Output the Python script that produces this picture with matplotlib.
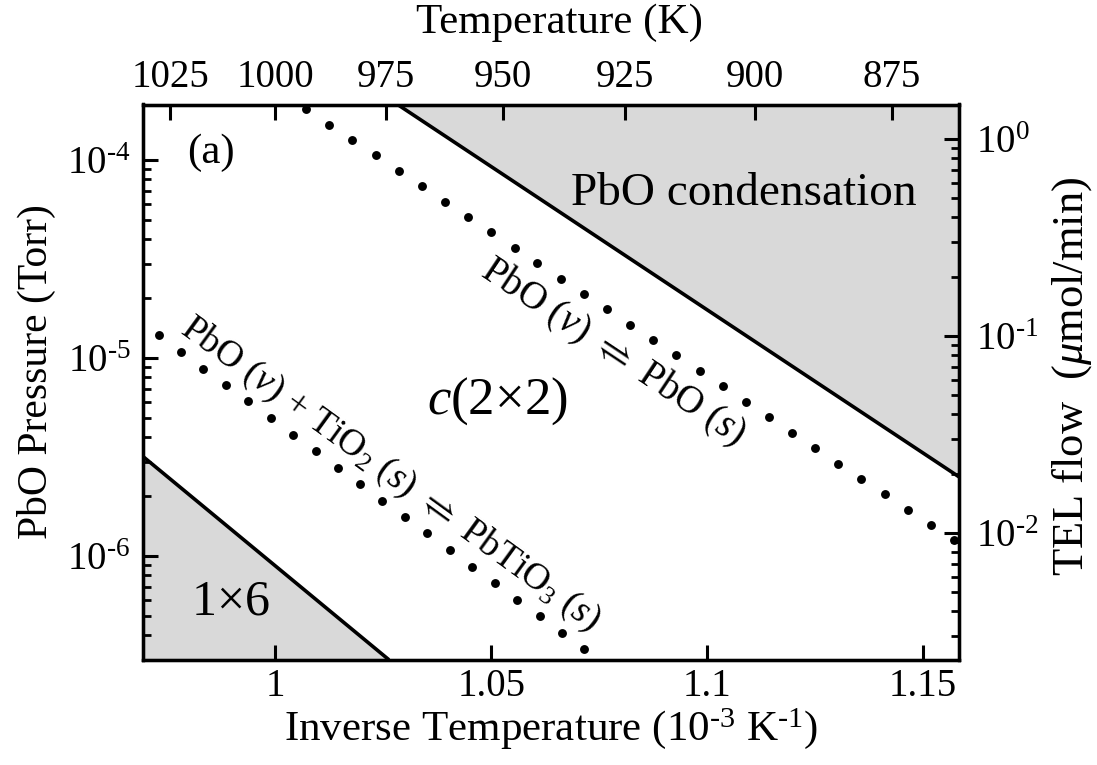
import numpy as np
import matplotlib
matplotlib.use("Agg")
import matplotlib.pyplot as plt
from matplotlib.ticker import LogLocator, NullFormatter, FuncFormatter

plt.rcParams['font.family'] = ['Liberation Serif', 'DejaVu Serif']
plt.rcParams['mathtext.fontset'] = 'custom'
plt.rcParams['mathtext.rm'] = 'Liberation Serif'
plt.rcParams['mathtext.it'] = 'Liberation Serif:italic'
plt.rcParams['mathtext.bf'] = 'Liberation Serif:bold'
plt.rcParams['mathtext.fallback'] = 'stix'

HY = '\u2010'  # short hyphen used as minus in the reference

# ---------------- data ----------------
# PbO condensation boundary (solid line, upper right)
cond_x = [1.0284, 1.1584]
cond_P = [1.90e-4, 2.51e-6]
# 1x6 boundary (solid line, lower left)
r16_x = [0.9693, 1.0263]
r16_P = [3.18e-6, 2.99e-7]
# PbO(v) <-> PbO(s) dotted line
pbo_x = [1.0071, 1.0125, 1.0178, 1.0232, 1.0286, 1.0339, 1.0393, 1.0447, 1.0500,
         1.0554, 1.0607, 1.0661, 1.0715, 1.0768, 1.0822, 1.0875, 1.0929, 1.0983,
         1.1036, 1.1090, 1.1144, 1.1197, 1.1251, 1.1304, 1.1358, 1.1412, 1.1465,
         1.1519, 1.1573]
pbo_P = [1.803e-4, 1.507e-4, 1.259e-4, 1.054e-4, 8.81e-5, 7.36e-5, 6.15e-5, 5.15e-5,
         4.31e-5, 3.60e-5, 3.01e-5, 2.51e-5, 2.10e-5, 1.76e-5, 1.47e-5, 1.23e-5,
         1.03e-5, 8.59e-6, 7.18e-6, 6.00e-6, 5.01e-6, 4.20e-6, 3.51e-6, 2.93e-6,
         2.45e-6, 2.05e-6, 1.71e-6, 1.43e-6, 1.20e-6]
# PbO(v) + TiO2(s) <-> PbTiO3(s) dotted line
pt_x = [0.9729, 0.9781, 0.9833, 0.9885, 0.9937, 0.9989, 1.0041, 1.0093, 1.0144,
        1.0196, 1.0248, 1.0300, 1.0352, 1.0404, 1.0456, 1.0508, 1.0560, 1.0612,
        1.0664, 1.0716]
pt_P = [1.30e-5, 1.07e-5, 8.83e-6, 7.29e-6, 6.03e-6, 4.97e-6, 4.10e-6, 3.38e-6,
        2.79e-6, 2.31e-6, 1.90e-6, 1.57e-6, 1.30e-6, 1.07e-6, 8.83e-7, 7.29e-7,
        6.01e-7, 4.97e-7, 4.09e-7, 3.38e-7]

inv_ticks = [1.0, 1.05, 1.1, 1.15]
inv_labels = ['1', '1.05', '1.1', '1.15']
temp_ticks = [1025, 1000, 975, 950, 925, 900, 875]


def log_fmt(v, pos):
    e = int(round(np.log10(v)))
    s = (HY + str(-e)) if e < 0 else str(e)
    return r'$\mathdefault{10^{%s}}$' % s


# ---------------- figure ----------------
fig = plt.figure(figsize=(10.97, 7.65), dpi=100)
ax = fig.add_axes([143/1097, 1 - 660/765, 816/1097, 555.5/765])

gray = '#d9d9d9'
XLIM = (0.9693, 1.1584)
YLIM = (10**-6.5253, 10**-3.7197)

ax.set_xlim(*XLIM)
ax.set_yscale('log')
ax.set_ylim(*YLIM)

ax.fill_between(cond_x, cond_P, 1e-2, color=gray, lw=0, zorder=1)
ax.fill_between(r16_x, r16_P, 1e-9, color=gray, lw=0, zorder=1)
ax.plot(cond_x, cond_P, color='black', lw=2.6, zorder=3, solid_capstyle='butt')
ax.plot(r16_x, r16_P, color='black', lw=2.6, zorder=3, solid_capstyle='butt')
ax.plot(pbo_x, pbo_P, 'o', color='black', ms=6.4, mew=0, zorder=4)
ax.plot(pt_x, pt_P, 'o', color='black', ms=6.4, mew=0, zorder=4)

TICKFS = 28
LABFS = 31

for s in ax.spines.values():
    s.set_linewidth(2.3)

ax.set_xticks(inv_ticks)
ax.set_xticklabels(inv_labels)
ax.tick_params(axis='x', which='major', direction='in', length=11, width=2.2,
               labelsize=TICKFS, pad=6, top=False, bottom=True)
ax.yaxis.set_major_locator(LogLocator(base=10, numticks=10))
ax.yaxis.set_minor_locator(LogLocator(base=10, subs=np.arange(2, 10), numticks=20))
ax.yaxis.set_major_formatter(FuncFormatter(log_fmt))
ax.yaxis.set_minor_formatter(NullFormatter())
ax.tick_params(axis='y', which='major', direction='in', length=11, width=2.2,
               labelsize=TICKFS, pad=9, left=True, right=False)
ax.tick_params(axis='y', which='minor', direction='in', length=6, width=2.0,
               left=True, right=False)

ax.set_xlabel(r'Inverse Temperature (10$^{%s3}$ K$^{%s1}$)' % (HY, HY), fontsize=LABFS)
ax.xaxis.set_label_coords(0.5, -0.083)
ax.xaxis.label.set_va('top')
ax.set_ylabel('PbO Pressure (Torr)', fontsize=30)
ax.yaxis.set_label_coords(-0.107, 0.52)

# top axis: temperature
axt = ax.twiny()
axt.set_xlim(*XLIM)
axt.set_xticks([1000.0 / t for t in temp_ticks])
axt.set_xticklabels([str(t) for t in temp_ticks])
axt.tick_params(axis='x', which='major', direction='in', length=11, width=2.2,
                labelsize=TICKFS, pad=6)
axt.set_xlabel('Temperature (K)', fontsize=LABFS)
axt.xaxis.set_label_coords(0.51, 1.128)

# right axis: TEL flow
axr = ax.twinx()
axr.set_yscale('log')
axr.set_ylim(10**-2.6447, 10**0.1751)
axr.yaxis.set_major_locator(LogLocator(base=10, numticks=10))
axr.yaxis.set_minor_locator(LogLocator(base=10, subs=np.arange(2, 10), numticks=20))
axr.yaxis.set_major_formatter(FuncFormatter(log_fmt))
axr.yaxis.set_minor_formatter(NullFormatter())
axr.tick_params(axis='y', which='major', direction='in', length=11, width=2.2,
                labelsize=TICKFS, pad=12)
axr.tick_params(axis='y', which='minor', direction='in', length=6, width=2.0)
axr.set_ylabel(r'TEL flow  ($\mu$mol/min)', fontsize=32)
axr.yaxis.set_label_coords(1.112, 0.51)
for a in (axt, axr):
    for s in a.spines.values():
        s.set_linewidth(2.3)

# annotations
ax.text(0.0833, 0.9127, '(a)', transform=ax.transAxes, fontsize=31,
        ha='center', va='center', zorder=5)
ax.text(0.7359, 0.819, 'PbO condensation', transform=ax.transAxes, fontsize=34,
        ha='center', va='baseline', zorder=5)
ax.text(0.4338, 0.466, r'$c$(2$\times$2)', transform=ax.transAxes, fontsize=38,
        ha='center', va='center', zorder=5)
ax.text(0.1066, 0.1044, r'1$\times$6', transform=ax.transAxes, fontsize=36,
        ha='center', va='center', zorder=5)
ax.text(0.576, 0.553, r'PbO ($v$) $\rightleftharpoons$ PbO ($s$)',
        transform=ax.transAxes, fontsize=28, rotation=-33.6,
        rotation_mode='anchor', ha='center', va='center', zorder=5)
ax.text(0.303, 0.334,
        r'PbO ($v$) + TiO$_2$ ($s$) $\rightleftharpoons$ PbTiO$_3$ ($s$)',
        transform=ax.transAxes, fontsize=27, rotation=-36,
        rotation_mode='anchor', ha='center', va='center', zorder=5)

fig.savefig('out.png', dpi=100)
